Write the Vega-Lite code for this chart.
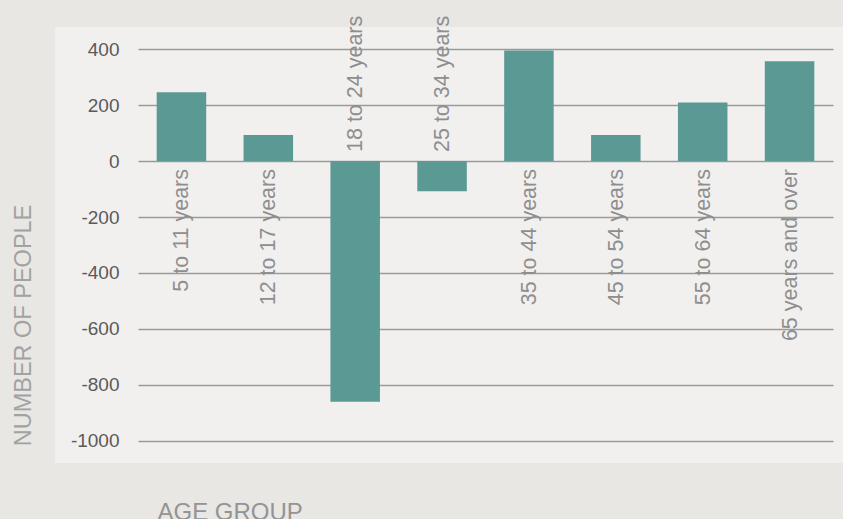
{
  "$schema": "https://vega.github.io/schema/vega-lite/v6.json",
  "width": 788,
  "height": 436,
  "autosize": {"type": "none"},
  "padding": {"left": 55, "top": 27, "right": 0, "bottom": 56},
  "background": "#e8e7e4",
  "view": {"fill": "#f1f0ee", "stroke": null},
  "config": {"font": "Liberation Sans"},
  "data": {
    "values": [
      {"group": "5 to 11 years", "value": 246},
      {"group": "12 to 17 years", "value": 93},
      {"group": "18 to 24 years", "value": -860},
      {"group": "25 to 34 years", "value": -108},
      {"group": "35 to 44 years", "value": 395},
      {"group": "45 to 54 years", "value": 93},
      {"group": "55 to 64 years", "value": 209},
      {"group": "65 years and over", "value": 356}
    ]
  },
  "encoding": {
    "x": {
      "field": "group",
      "type": "nominal",
      "sort": null,
      "scale": {"range": [83, 778], "paddingInner": 0.43, "paddingOuter": 0.215},
      "axis": {
        "title": "AGE GROUP",
        "labels": false,
        "ticks": false,
        "domain": false,
        "grid": false,
        "titleFont": "Liberation Sans",
        "titleFontWeight": "normal",
        "titleFontSize": 24,
        "titleColor": "#949494",
        "titleAlign": "left",
        "titleAnchor": null,
        "titleBaseline": "alphabetic",
        "titleX": 102,
        "titleY": 56
      }
    }
  },
  "layer": [
    {
      "mark": {"type": "bar", "color": "#5b9994"},
      "encoding": {
        "y": {
          "field": "value",
          "type": "quantitative",
          "scale": {"domain": [-1078.6, 478.6], "nice": false, "zero": false},
          "axis": {
            "title": "NUMBER OF PEOPLE",
            "values": [-1000, -800, -600, -400, -200, 0, 200, 400],
            "labelExpr": "'' + datum.value",
            "ticks": false,
            "domain": false,
            "grid": true,
            "gridColor": "#9a9a9a",
            "gridWidth": 1.3,
            "labelPadding": -64,
            "labelFont": "Liberation Sans",
            "labelFontSize": 19,
            "labelColor": "#5a5a5a",
            "labelBaseline": "middle",
            "titleFont": "Liberation Sans",
            "titleFontWeight": "normal",
            "titleFontSize": 23.5,
            "titleColor": "#a2a2a2",
            "titleAngle": -90,
            "titleAlign": "center",
            "titleAnchor": null,
            "titleBaseline": "alphabetic",
            "titleX": -25,
            "titleY": 298
          }
        }
      }
    },
    {
      "transform": [{"filter": "datum.value >= 0"}],
      "mark": {
        "type": "text",
        "angle": -90,
        "align": "right",
        "baseline": "middle",
        "dx": -8,
        "dy": 1,
        "font": "Liberation Sans",
        "fontSize": 21.5,
        "color": "#8e8e8e"
      },
      "encoding": {
        "y": {"datum": 0, "type": "quantitative"},
        "text": {"field": "group", "type": "nominal"}
      }
    },
    {
      "transform": [{"filter": "datum.value < 0"}],
      "mark": {
        "type": "text",
        "angle": -90,
        "align": "left",
        "baseline": "middle",
        "dx": 9,
        "dy": 1,
        "font": "Liberation Sans",
        "fontSize": 21.5,
        "color": "#8e8e8e"
      },
      "encoding": {
        "y": {"datum": 0, "type": "quantitative"},
        "text": {"field": "group", "type": "nominal"}
      }
    }
  ]
}
